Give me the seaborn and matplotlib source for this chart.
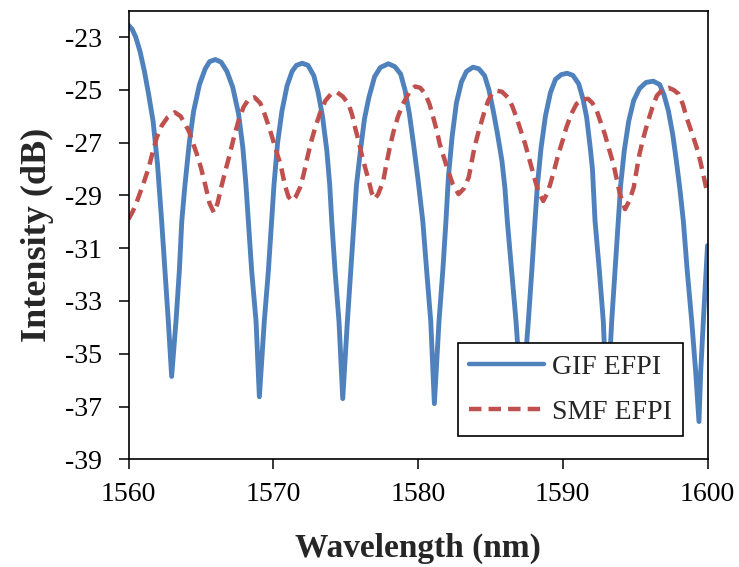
import pandas as pd
import matplotlib
matplotlib.use("Agg")
import matplotlib.pyplot as plt
import seaborn as sns

# GIF EFPI spectrum (wavelength nm, intensity dB)
gif_wl = [1560.0, 1560.25, 1560.5, 1560.8, 1561.1, 1561.4, 1561.7, 1562.0, 1562.29, 1562.52,
          1562.75, 1562.98, 1563.28, 1563.51, 1563.68, 1563.9, 1564.2, 1564.5, 1564.9, 1565.3,
          1565.6, 1566.0, 1566.4, 1566.8, 1567.2, 1567.6, 1567.9, 1568.1, 1568.28, 1568.51,
          1568.81, 1569.04, 1569.38, 1569.66, 1569.89, 1570.05, 1570.3, 1570.6, 1570.95, 1571.3,
          1571.6, 1572.0, 1572.4, 1572.8, 1573.1, 1573.4, 1573.7, 1573.9, 1574.04, 1574.27,
          1574.54, 1574.8, 1575.12, 1575.35, 1575.58, 1575.75, 1576.0, 1576.3, 1576.6, 1577.0,
          1577.4, 1577.95, 1578.4, 1578.8, 1579.1, 1579.4, 1579.7, 1580.0, 1580.33, 1580.6,
          1580.88, 1581.13, 1581.45, 1581.71, 1581.93, 1582.1, 1582.35, 1582.65, 1583.0, 1583.35,
          1583.8, 1584.2, 1584.6, 1584.9, 1585.2, 1585.5, 1585.8, 1586.0, 1586.17, 1586.47,
          1586.77, 1587.18, 1587.62, 1587.86, 1588.08, 1588.25, 1588.5, 1588.8, 1589.15, 1589.5,
          1589.9, 1590.3, 1590.7, 1591.1, 1591.4, 1591.65, 1591.9, 1592.05, 1592.23, 1592.53,
          1592.8, 1593.06, 1593.38, 1593.61, 1593.84, 1594.0, 1594.25, 1594.55, 1594.9, 1595.3,
          1595.75, 1596.25, 1596.7, 1597.0, 1597.3, 1597.6, 1597.85, 1598.1, 1598.33, 1598.6,
          1598.91, 1599.18, 1599.41, 1599.53, 1599.71, 1599.9, 1600.0]
gif_db = [-22.55, -22.7, -23.0, -23.55, -24.3, -25.2, -26.2, -27.8, -29.97, -31.87,
          -33.77, -35.86, -33.77, -31.87, -29.97, -28.6, -27.0, -25.8, -24.8, -24.2,
          -23.93, -23.85, -23.95, -24.3, -24.9, -25.9, -27.2, -28.5, -29.97, -31.87,
          -33.77, -36.63, -33.77, -31.87, -29.97, -28.6, -27.0, -25.8, -24.85, -24.3,
          -24.07, -23.99, -24.07, -24.46, -25.1, -26.0, -27.3, -28.6, -29.97, -31.87,
          -33.77, -36.7, -33.77, -31.87, -29.97, -28.6, -27.4, -26.1, -25.3, -24.5,
          -24.15, -24.01, -24.12, -24.4, -25.0, -25.9, -27.1, -28.4, -29.97, -31.87,
          -33.77, -36.89, -33.77, -31.87, -29.97, -28.3, -26.8, -25.5, -24.7, -24.3,
          -24.14, -24.2, -24.46, -25.0, -25.8, -26.7, -27.7, -28.7, -29.97, -31.87,
          -33.77, -37.0, -33.77, -31.87, -29.97, -28.6, -27.2, -26.0, -25.1, -24.6,
          -24.42, -24.37, -24.45, -24.77, -25.35, -26.04, -27.2, -28.0, -29.97, -31.87,
          -33.77, -37.2, -33.77, -31.87, -29.97, -28.6, -27.3, -26.2, -25.4, -24.95,
          -24.72, -24.67, -24.8, -25.2, -25.8, -26.7, -27.7, -28.8, -29.97, -31.87,
          -33.77, -35.67, -37.57, -35.67, -33.77, -31.87, -30.9]

# SMF EFPI spectrum
smf_wl = [1560.0, 1560.3, 1560.6, 1561.0, 1561.4, 1561.7, 1561.95, 1562.3, 1562.7, 1563.2,
          1563.6, 1563.9, 1564.2, 1564.4, 1564.7, 1565.0, 1565.3, 1565.6, 1565.9, 1566.15,
          1566.4, 1566.7, 1567.0, 1567.3, 1567.6, 1567.95, 1568.3, 1568.7, 1569.1, 1569.4,
          1569.7, 1570.0, 1570.25, 1570.5, 1570.8, 1571.05, 1571.3, 1571.55, 1571.85, 1572.1,
          1572.3, 1572.6, 1572.9, 1573.25, 1573.6, 1574.0, 1574.4, 1574.8, 1575.2, 1575.45,
          1575.65, 1575.9, 1576.1, 1576.35, 1576.6, 1576.8, 1577.0, 1577.25, 1577.6, 1577.8,
          1578.05, 1578.3, 1578.6, 1578.9, 1579.2, 1579.5, 1579.8, 1580.15, 1580.5, 1580.8,
          1581.05, 1581.3, 1581.5, 1581.75, 1582.0, 1582.4, 1582.8, 1583.15, 1583.5, 1583.7,
          1583.9, 1584.15, 1584.4, 1584.6, 1584.85, 1585.1, 1585.4, 1585.8, 1586.2, 1586.5,
          1586.8, 1587.1, 1587.4, 1587.6, 1587.85, 1588.1, 1588.3, 1588.65, 1588.95, 1589.2,
          1589.45, 1589.7, 1590.0, 1590.25, 1590.6, 1590.95, 1591.35, 1591.75, 1592.05, 1592.35,
          1592.6, 1592.9, 1593.2, 1593.5, 1593.75, 1593.95, 1594.3, 1594.6, 1594.9, 1595.1,
          1595.3, 1595.6, 1595.9, 1596.2, 1596.5, 1596.9, 1597.3, 1597.65, 1598.0, 1598.3,
          1598.55, 1598.9, 1599.25, 1599.5, 1599.7, 1600.0]
smf_db = [-29.9, -29.6, -29.2, -28.6, -27.94, -27.3, -26.8, -26.35, -26.04, -25.85,
          -26.0, -26.29, -26.6, -26.93, -27.4, -27.94, -28.6, -29.3, -29.65, -29.3,
          -28.7, -28.05, -27.43, -26.75, -26.17, -25.65, -25.35, -25.28, -25.5, -25.91,
          -26.4, -26.93, -27.4, -27.81, -28.6, -29.05, -29.21, -29.05, -28.7, -28.2,
          -27.69, -27.0, -26.42, -25.85, -25.41, -25.15, -25.09, -25.25, -25.53, -25.95,
          -26.42, -26.95, -27.43, -27.95, -28.45, -28.9, -29.14, -28.95, -28.45, -27.85,
          -27.18, -26.6, -26.04, -25.6, -25.28, -25.0, -24.87, -24.92, -25.15, -25.55,
          -26.04, -26.55, -27.05, -27.5, -27.94, -28.57, -28.95, -28.75, -28.32, -27.75,
          -27.18, -26.65, -26.17, -25.8, -25.41, -25.15, -25.03, -25.07, -25.28, -25.6,
          -26.04, -26.55, -27.05, -27.45, -27.94, -28.45, -28.83, -29.21, -28.9, -28.45,
          -27.95, -27.43, -26.9, -26.42, -25.9, -25.53, -25.36, -25.34, -25.5, -25.79,
          -26.2, -26.67, -27.25, -27.81, -28.45, -28.95, -29.52, -29.2, -28.7, -28.05,
          -27.43, -26.75, -26.17, -25.65, -25.22, -24.98, -24.92, -25.0, -25.15, -25.55,
          -26.04, -26.6, -27.18, -27.7, -28.19, -28.95]

x_ticks = [1560, 1570, 1580, 1590, 1600]
y_ticks = [-39, -37, -35, -33, -31, -29, -27, -25, -23]

sns.set_theme(style="white")
plt.rcParams['font.family'] = ['Liberation Serif', 'DejaVu Serif']

fig = plt.figure(figsize=(7.39, 5.67), dpi=100)
ax = fig.add_axes([0.1739, 0.1899, 0.7835, 0.7912])

gif = pd.DataFrame({'wl': gif_wl, 'db': gif_db})
smf = pd.DataFrame({'wl': smf_wl, 'db': smf_db})

sns.lineplot(data=gif, x='wl', y='db', ax=ax, color='#4F81BD', lw=3.5,
             label='GIF EFPI', errorbar=None, solid_joinstyle='round')
sns.lineplot(data=smf, x='wl', y='db', ax=ax, color='#C0504D', lw=3.2,
             label='SMF EFPI', errorbar=None)
ax.lines[1].set_dashes([2.8, 1.6])

ax.set_xlim(1560, 1600)
ax.set_ylim(-39, -22)
ax.set_xticks(x_ticks)
ax.set_yticks(y_ticks)
ax.set_yticklabels([str(v) for v in y_ticks])
ax.tick_params(axis='both', direction='out', length=7, width=1.1, color='black',
               labelsize=20, labelcolor='black')
ax.tick_params(axis='y', pad=12)
ax.tick_params(axis='x', pad=9)
ax.tick_params(left=True, bottom=True)
for sp in ax.spines.values():
    sp.set_color('black')
    sp.set_linewidth(1.2)

ax.set_xlabel('Wavelength (nm)', fontsize=24, fontweight='bold', labelpad=19)
ax.set_ylabel('Intensity (dB)', fontsize=26, fontweight='bold', labelpad=8)

leg = ax.legend(loc='lower right', bbox_to_anchor=(0.958, 0.052), fontsize=20,
                frameon=True, fancybox=False, edgecolor='black', framealpha=1,
                handlelength=2.7, handletextpad=0.3, labelspacing=0.7,
                borderpad=0.4, borderaxespad=0)
leg.get_frame().set_linewidth(1.2)
leg.set_zorder(5)
for h in leg.get_lines():
    h.set_linewidth(3.2)
leg.get_lines()[1].set_dashes([2.8, 1.6])

fig.savefig('out.png', dpi=100)
